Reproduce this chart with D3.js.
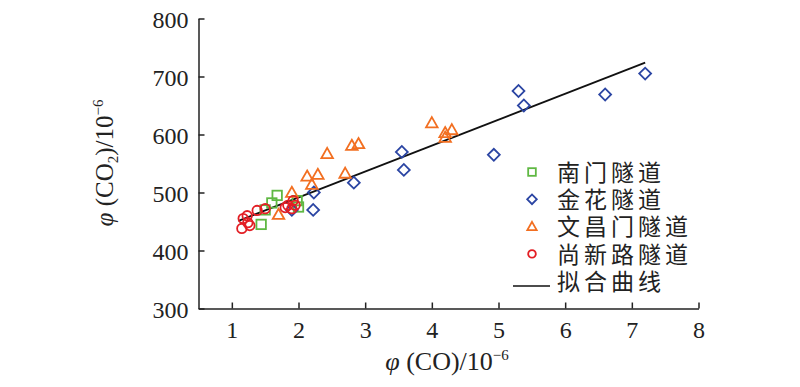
<!DOCTYPE html>
<html>
<head>
<meta charset="utf-8">
<script src="https://cdn.jsdelivr.net/npm/d3@7"></script>
<style>
  body { margin: 0; background: #fff; }
  svg text { font-family: "Liberation Serif", "DejaVu Serif", serif; fill: #222; }
  .cjk { font-family: "Noto Sans CJK SC", sans-serif; }
</style>
</head>
<body>
<div id="viz"><svg width="800" height="387"></svg></div>
<script>
// 南门隧道
const nanmen = [[1.68, 495], [1.6, 482], [1.44, 445], [2.0, 475], [1.98, 486], [1.5, 470]]
// 金花隧道
const jinhua = [[7.2, 705], [5.3, 675], [5.38, 650], [6.6, 669], [4.93, 565], [3.55, 570],
                [3.58, 539], [2.83, 517], [2.23, 500], [2.22, 470], [1.9, 470]]
// 文昌门隧道
const wenchangmen = [[4.0, 620], [4.3, 608], [4.2, 603], [4.2, 595], [2.43, 567], [2.8, 581],
                     [2.9, 584], [2.13, 528], [2.29, 531], [2.2, 514], [2.7, 533], [1.9, 500], [1.7, 462]]
// 尚新路隧道
const shangxinlu = [[1.15, 438], [1.17, 455], [1.23, 460], [1.27, 443], [1.38, 469], [1.5, 472],
                    [1.8, 474], [1.84, 478], [1.92, 486], [1.9, 472], [1.95, 478], [1.24, 448]]
// 拟合曲线 y = a*x + b
const fitSlope = 44.7
const fitIntercept = 402
const fitRange = [1.1, 7.2]

const xTicks = [1, 2, 3, 4, 5, 6, 7, 8]
const yTicks = [300, 400, 500, 600, 700, 800]

const svg = d3.select("#viz svg")

const x = d3.scaleLinear().domain([0.5, 8]).range([198.5, 698.5])
const y = d3.scaleLinear().domain([300, 800]).range([308.5, 18.5])

// axes, ticks point inward
svg.append("g")
    .attr("transform", "translate(0," + 308.5 + ")")
    .call(d3.axisBottom(x).tickValues(xTicks).tickSizeInner(-6).tickSizeOuter(0).tickPadding(12))
    .call(g => g.selectAll("text").attr("font-size", 24).attr("font-family", "Liberation Serif").attr("fill", "#222"))

svg.append("g")
    .attr("transform", "translate(" + 198.5 + ",0)")
    .call(d3.axisLeft(y).tickValues(yTicks).tickSizeInner(-6).tickSizeOuter(0).tickPadding(10))
    .call(g => g.selectAll("text").attr("font-size", 24).attr("font-family", "Liberation Serif").attr("fill", "#222").attr("dy", "0.36em"))

svg.selectAll(".domain, .tick line").attr("stroke", "#222").attr("stroke-width", 1.5)

// axis titles
const xt = svg.append("text").attr("x", 447).attr("y", 370).attr("text-anchor", "middle").attr("font-size", 26)
xt.append("tspan").attr("font-style", "italic").text("φ")
xt.append("tspan").text(" (CO)/10")
xt.append("tspan").attr("font-size", 15).attr("dy", -10).text("−6")

const yt = svg.append("text")
    .attr("transform", "translate(113,163) rotate(-90)")
    .attr("text-anchor", "middle").attr("font-size", 25)
yt.append("tspan").attr("font-style", "italic").text("φ")
yt.append("tspan").text(" (CO")
yt.append("tspan").attr("font-size", 15).attr("dy", 5).text("2")
yt.append("tspan").attr("dy", -5).text(")/10")
yt.append("tspan").attr("font-size", 15).attr("dy", -10).text("−6")

// fit line
svg.append("line")
    .attr("x1", x(fitRange[0])).attr("y1", y(fitSlope * fitRange[0] + fitIntercept))
    .attr("x2", x(fitRange[1])).attr("y2", y(fitSlope * fitRange[1] + fitIntercept))
    .attr("stroke", "#111").attr("stroke-width", 1.8)

const series = [
    {name: "南门隧道", data: nanmen, color: "#5fb843", shape: "square"},
    {name: "金花隧道", data: jinhua, color: "#2b45a3", shape: "diamond"},
    {name: "文昌门隧道", data: wenchangmen, color: "#f26f21", shape: "triangle"},
    {name: "尚新路隧道", data: shangxinlu, color: "#e31e24", shape: "circle"}
]

function drawMarker(g, shape, color, s) {
    if (shape == "square") {
        g.append("rect").attr("x", -s * 0.45).attr("y", -s * 0.45).attr("width", s * 0.9).attr("height", s * 0.9)
    } else if (shape == "diamond") {
        g.append("rect").attr("x", -s * 0.4).attr("y", -s * 0.4).attr("width", s * 0.8).attr("height", s * 0.8)
            .attr("transform", "rotate(45)")
    } else if (shape == "triangle") {
        g.append("path").attr("d", "M0," + (-s * 0.55) + "L" + (s * 0.55) + "," + (s * 0.42) + "L" + (-s * 0.55) + "," + (s * 0.42) + "Z")
    } else {
        g.append("circle").attr("r", s * 0.45)
    }
    g.selectAll("*").attr("fill", "none").attr("stroke", color).attr("stroke-width", 1.8)
}

series.forEach(sr => {
    svg.append("g").selectAll("g")
        .data(sr.data)
        .enter()
        .append("g")
        .attr("transform", d => "translate(" + x(d[0]) + "," + y(d[1]) + ")")
        .each(function() { drawMarker(d3.select(this), sr.shape, sr.color, 10.5) })
})

// legend
const legend = svg.append("g")
const rowH = 27.3
series.forEach((sr, i) => {
    const yy = 172 + i * rowH
    const mg = legend.append("g").attr("transform", "translate(532," + yy + ")")
    drawMarker(mg, sr.shape, sr.color, 8.5)
    legend.append("text").attr("class", "cjk").attr("x", 557).attr("y", yy + 4)
        .attr("font-size", 23).attr("letter-spacing", 4).attr("dy", "0.2em").text(sr.name)
})
const ly = 172 + 4 * rowH
legend.append("line").attr("x1", 513).attr("x2", 550).attr("y1", 286).attr("y2", 286)
    .attr("stroke", "#111").attr("stroke-width", 1.5)
legend.append("text").attr("class", "cjk").attr("x", 557).attr("y", ly + 4)
    .attr("font-size", 23).attr("letter-spacing", 4).attr("dy", "0.2em").text("拟合曲线")
</script>
</body>
</html>
